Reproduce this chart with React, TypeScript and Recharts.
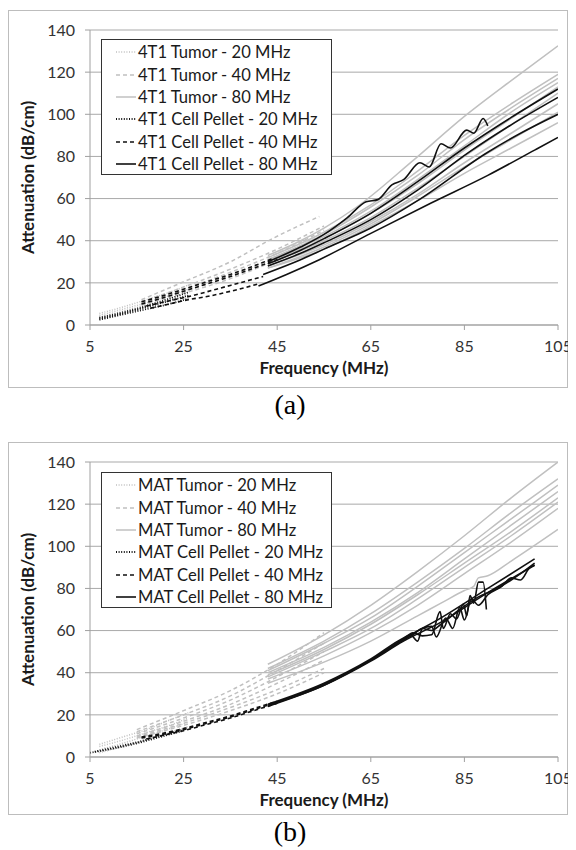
import React from 'react';
import { LineChart, Line, XAxis, YAxis, CartesianGrid } from 'recharts';

type Pt = [number, number];

// ---------- Panel (a): 4T1 ----------
const aTumor20: Pt[][] = [
  [[7, 5.5], [12, 8.5], [17, 12], [22, 15.5], [26, 19]],
  [[7, 4.5], [12, 7.5], [17, 10.5], [22, 14], [26, 17]],
  [[7, 3.5], [12, 6.5], [17, 9.5], [22, 12.5], [26, 15.5]],
  [[7, 2.5], [12, 5.5], [17, 8.5], [22, 11.5], [26, 14]],
];
const aTumor40: Pt[][] = [
  [[16, 12], [25, 20.5], [35, 30], [44, 41], [54, 51.5]],
  [[16, 11], [25, 18], [35, 26.5], [45, 36], [55, 47]],
  [[16, 10.5], [25, 17], [35, 25], [45, 34], [55, 45]],
  [[16, 10], [25, 16], [35, 23.5], [45, 32.5], [55, 43]],
  [[16, 9.5], [25, 15], [35, 22], [45, 31], [55, 41]],
];
const aTumor80: Pt[][] = [
  [[43, 33], [50, 40], [55, 46], [62, 56], [74, 78], [85, 99], [95, 116], [105, 132.5]],
  [[43, 32], [55, 44], [65, 57], [75, 73], [85, 90], [95, 105], [105, 119]],
  [[43, 31], [55, 43], [65, 56], [75, 71], [85, 88], [95, 103], [105, 117]],
  [[43, 31], [55, 42], [65, 54], [75, 69], [85, 85], [95, 101], [105, 115]],
  [[43, 30], [55, 41], [65, 53], [75, 67], [85, 83], [95, 98], [105, 113]],
  [[43, 29], [55, 40], [65, 51], [75, 65], [85, 80], [95, 95], [105, 110]],
  [[43, 28], [55, 38], [65, 49], [75, 62], [85, 77], [95, 91], [105, 105]],
  [[43, 27], [55, 37], [65, 48], [75, 61], [85, 75], [95, 88], [105, 101]],
  [[43, 27], [55, 36], [65, 47], [75, 59], [85, 72], [95, 84], [105, 96]],
];
const aPellet20: Pt[][] = [
  [[7, 3], [12, 5.5], [17, 8.5], [22, 11.5], [26, 14]],
  [[7, 2.5], [12, 5], [17, 7.5], [22, 10], [26, 12.5]],
  [[7, 3.5], [12, 6], [17, 9], [22, 12.5], [26, 15.5]],
];
const aPellet40: Pt[][] = [
  [[16, 10], [20, 12.5], [25, 16], [30, 19.5], [35, 23], [40, 27], [45, 31]],
  [[16, 11], [20, 13.5], [25, 17], [30, 20.5], [35, 24], [40, 28], [44, 31.5]],
  [[18, 8], [22, 10], [26, 12], [30, 13.5], [35, 16], [41, 19.5]],
  [[17, 9], [22, 11.5], [27, 14], [32, 17], [37, 20], [42, 23]],
];
const aPellet80: Pt[][] = [
  [[43, 30], [50, 37], [55, 43], [60, 51], [64, 58.5], [66.5, 59.5], [69.5, 66.5], [72, 69], [75.5, 77], [77.5, 75], [80, 86], [82, 84], [85.5, 92.5], [87, 91], [89, 98], [90, 94.5]],
  [[43, 29], [50, 35.5], [55, 41], [65, 53], [75, 68], [85, 84], [95, 98.5], [105, 112]],
  [[43, 28], [50, 34], [55, 39], [65, 50], [75, 64], [86, 82], [95, 95], [105, 108]],
  [[42, 24], [50, 31], [55, 36], [65, 46], [75, 59], [90, 82], [97, 91], [105, 100]],
  [[41, 18.5], [47, 24], [54, 31], [65, 43.5], [78, 58], [90, 71], [100, 83], [105, 89]],
];
const aLabels = [
  '4T1 Tumor - 20 MHz',
  '4T1 Tumor - 40 MHz',
  '4T1 Tumor - 80 MHz',
  '4T1 Cell Pellet - 20 MHz',
  '4T1 Cell Pellet - 40 MHz',
  '4T1 Cell Pellet - 80 MHz',
];

// ---------- Panel (b): MAT ----------
const bTumor20: Pt[][] = [
  [[7, 6], [12, 9.5], [17, 13], [22, 17.5], [26, 21]],
  [[7, 5], [12, 8], [17, 11.5], [22, 15], [26, 18.5]],
  [[7, 3.5], [12, 6.5], [17, 10], [22, 13.5], [26, 16.5]],
  [[7, 2], [12, 5], [17, 8], [22, 11.5], [26, 14.5]],
];
const bTumor40: Pt[][] = [
  [[15, 13], [25, 22], [35, 31.5], [45, 44], [55, 59]],
  [[15, 12], [25, 20], [35, 29], [45, 41], [55, 54]],
  [[15, 11], [25, 18.5], [35, 27], [45, 38], [55, 50]],
  [[15, 10], [25, 17], [35, 25], [45, 35], [55, 46]],
  [[15, 9.5], [25, 16], [35, 23.5], [45, 32], [55, 42]],
  [[15, 9], [25, 15], [35, 22], [45, 30], [55, 40]],
];
const bTumor80: Pt[][] = [
  [[43, 44], [55, 58], [65, 72], [75, 88], [85, 105], [95, 123], [105, 140]],
  [[43, 42], [55, 55], [65, 68], [75, 83], [85, 99], [95, 116], [105, 132]],
  [[43, 41], [55, 54], [65, 66], [75, 81], [85, 97], [95, 113], [105, 129]],
  [[43, 40], [55, 52], [65, 64], [75, 78], [85, 94], [95, 110], [105, 126]],
  [[43, 39], [55, 51], [65, 63], [75, 77], [85, 92], [95, 107], [105, 123]],
  [[43, 38], [55, 50], [65, 61], [75, 75], [85, 90], [95, 105], [105, 121]],
  [[43, 37], [55, 48], [65, 59], [75, 72], [85, 87], [95, 102], [105, 118]],
  [[43, 35], [55, 45], [65, 55], [75, 67], [80, 73], [85, 79], [87, 81], [88, 85], [90, 86], [95, 93], [105, 108]],
];
const bPellet20: Pt[][] = [
  [[5, 2], [10, 4], [15, 6.5], [20, 9.5], [25, 12.5]],
  [[6, 2.5], [10, 4.5], [15, 7], [20, 10], [25, 13]],
];
const bPellet40: Pt[][] = [
  [[16, 9], [20, 10.5], [25, 13], [30, 16], [35, 19], [40, 22.5], [45, 26]],
  [[16, 9.5], [20, 11], [25, 13.5], [30, 16.5], [35, 19.5], [40, 23], [45, 26.5]],
  [[17, 8.5], [20, 10], [25, 12.5], [30, 15.5], [35, 18.5], [40, 22], [45, 25.5]],
];
const bPellet80: Pt[][] = [
  [[43, 24.5], [55, 34.5], [65, 46], [72, 56], [80, 66], [90, 80], [100, 94]],
  [[43, 24], [55, 34], [65, 45.5], [72, 55], [80, 64], [90, 78], [100, 91]],
  [[43, 25], [55, 35], [65, 46.5], [72, 56.5], [73.5, 58], [75, 55], [76, 61], [78, 62], [79, 57], [81, 66], [82.5, 61], [84, 71], [85, 65], [86.5, 75], [88, 72], [90, 77], [93, 81], [95, 85], [97, 84], [99, 90], [100, 91]],
  [[43, 24.5], [55, 34], [65, 46], [72, 55.5], [74, 58], [76, 61], [78, 60], [80, 63], [84, 70], [88, 76], [92, 80], [95, 84], [97, 87], [100, 92]],
  [[43, 24.5], [55, 34.5], [65, 46], [72, 56], [74, 59], [76, 57.5], [78, 58], [79.8, 69], [80.5, 61], [82, 68], [83.3, 65.5], [84.8, 72.6], [85.5, 67], [86.2, 76.6], [87, 73], [88, 83], [89, 83], [89.7, 70]],
];
const bLabels = [
  'MAT Tumor - 20 MHz',
  'MAT Tumor - 40 MHz',
  'MAT Tumor - 80 MHz',
  'MAT Cell Pellet - 20 MHz',
  'MAT Cell Pellet - 40 MHz',
  'MAT Cell Pellet - 80 MHz',
];

const xTicks = [5, 25, 45, 65, 85, 105];
const yTicks = [0, 20, 40, 60, 80, 100, 120, 140];

const FONT = "Lato, 'Open Sans', sans-serif";
const GRAY = '#c0c0c0';
const BLACK = '#111111';
const DOT = '1 1.6';
const DASH = '4 3';

const styles = [
  { stroke: GRAY, dash: DOT, width: 1.5 },
  { stroke: GRAY, dash: DASH, width: 1.5 },
  { stroke: GRAY, dash: undefined, width: 1.5 },
  { stroke: BLACK, dash: DOT, width: 1.8 },
  { stroke: BLACK, dash: DASH, width: 1.6 },
  { stroke: BLACK, dash: undefined, width: 1.6 },
];

function lines(groups: Pt[][][], prefix: string) {
  const out: React.ReactNode[] = [];
  groups.forEach((curves, gi) => {
    const s = styles[gi];
    curves.forEach((c, ci) => {
      out.push(
        <Line
          key={`${prefix}-${gi}-${ci}`}
          data={c.map(([x, y]) => ({ x, y }))}
          dataKey="y"
          type="monotone"
          stroke={s.stroke}
          strokeWidth={s.width}
          strokeDasharray={s.dash}
          dot={false}
          activeDot={false}
          isAnimationActive={false}
        />
      );
    });
  });
  return out;
}

function Legend({ labels, top }: { labels: string[]; top: number }) {
  return (
    <div
      style={{
        position: 'absolute',
        left: 92,
        top,
        width: 231,
        height: 136,
        border: '1px solid #333',
        background: '#fff',
        boxSizing: 'border-box',
        fontFamily: FONT,
        fontSize: 16.6,
        color: '#1a1a1a',
        paddingTop: 1,
      }}
    >
      {labels.map((l, i) => {
        const s = styles[i];
        return (
          <div key={l} style={{ height: 22.4, display: 'flex', alignItems: 'center' }}>
            <svg width={36} height={10} style={{ flex: 'none' }}>
              <line x1={14} y1={5} x2={34} y2={5} stroke={s.stroke} strokeWidth={s.width} strokeDasharray={s.dash} />
            </svg>
            <span style={{ whiteSpace: 'nowrap' }}>{l}</span>
          </div>
        );
      })}
    </div>
  );
}

function Panel({
  top,
  boxHeight,
  groups,
  labels,
  prefix,
  legendTop,
}: {
  top: number;
  boxHeight: number;
  groups: Pt[][][];
  labels: string[];
  prefix: string;
  legendTop: number;
}) {
  const chartH = boxHeight - 2;
  const xAxisH = 52;
  const marginBottom = chartH - 314 - xAxisH;
  return (
    <div
      style={{
        position: 'absolute',
        left: 0,
        top,
        width: 560,
        height: boxHeight,
        border: '1px solid #bdbdbd',
        boxSizing: 'border-box',
      }}
    >
      <LineChart width={574} height={chartH} margin={{ top: 19, right: 25, left: 0, bottom: marginBottom }}>
        <CartesianGrid vertical={false} stroke="#a9a9a9" strokeWidth={1} />
        <XAxis
          type="number"
          dataKey="x"
          domain={[5, 105]}
          ticks={xTicks}
          allowDataOverflow
          height={xAxisH}
          stroke="#a0a0a0"
          tickSize={5}
          tickMargin={11}
          tick={{ fill: '#333', fontSize: 16, fontFamily: FONT }}
          label={{
            value: 'Frequency (MHz)',
            position: 'insideBottom',
            offset: 3,
            style: { fill: '#1a1a1a', fontSize: 17, fontWeight: 700, fontFamily: FONT },
          }}
        />
        <YAxis
          type="number"
          domain={[0, 140]}
          ticks={yTicks}
          allowDataOverflow
          width={81}
          stroke="#a0a0a0"
          tickSize={5}
          tickMargin={10}
          tick={{ fill: '#333', fontSize: 16, fontFamily: FONT }}
          label={{
            value: 'Attenuation (dB/cm)',
            angle: -90,
            position: 'insideLeft',
            offset: 19,
            style: { fill: '#1a1a1a', fontSize: 17, fontWeight: 700, fontFamily: FONT, textAnchor: 'middle' },
          }}
        />
        {lines(groups, prefix)}
      </LineChart>
      <Legend labels={labels} top={legendTop} />
    </div>
  );
}

export default function App() {
  return (
    <div style={{ position: 'relative', width: 560, height: 840 }}>
      <Panel
        top={2}
        boxHeight={378}
        groups={[aTumor20, aTumor40, aTumor80, aPellet20, aPellet40, aPellet80]}
        labels={aLabels}
        prefix="a"
        legendTop={28}
      />
      <div
        style={{
          position: 'absolute',
          left: 0,
          width: 564,
          top: 380,
          textAlign: 'center',
          fontFamily: "'Liberation Serif', 'DejaVu Serif', serif",
          fontSize: 28,
          lineHeight: '34px',
        }}
      >
        (a)
      </div>
      <Panel
        top={434}
        boxHeight={373}
        groups={[bTumor20, bTumor40, bTumor80, bPellet20, bPellet40, bPellet80]}
        labels={bLabels}
        prefix="b"
        legendTop={29}
      />
      <div
        style={{
          position: 'absolute',
          left: 0,
          width: 564,
          top: 807,
          textAlign: 'center',
          fontFamily: "'Liberation Serif', 'DejaVu Serif', serif",
          fontSize: 28,
          lineHeight: '34px',
        }}
      >
        (b)
      </div>
    </div>
  );
}
